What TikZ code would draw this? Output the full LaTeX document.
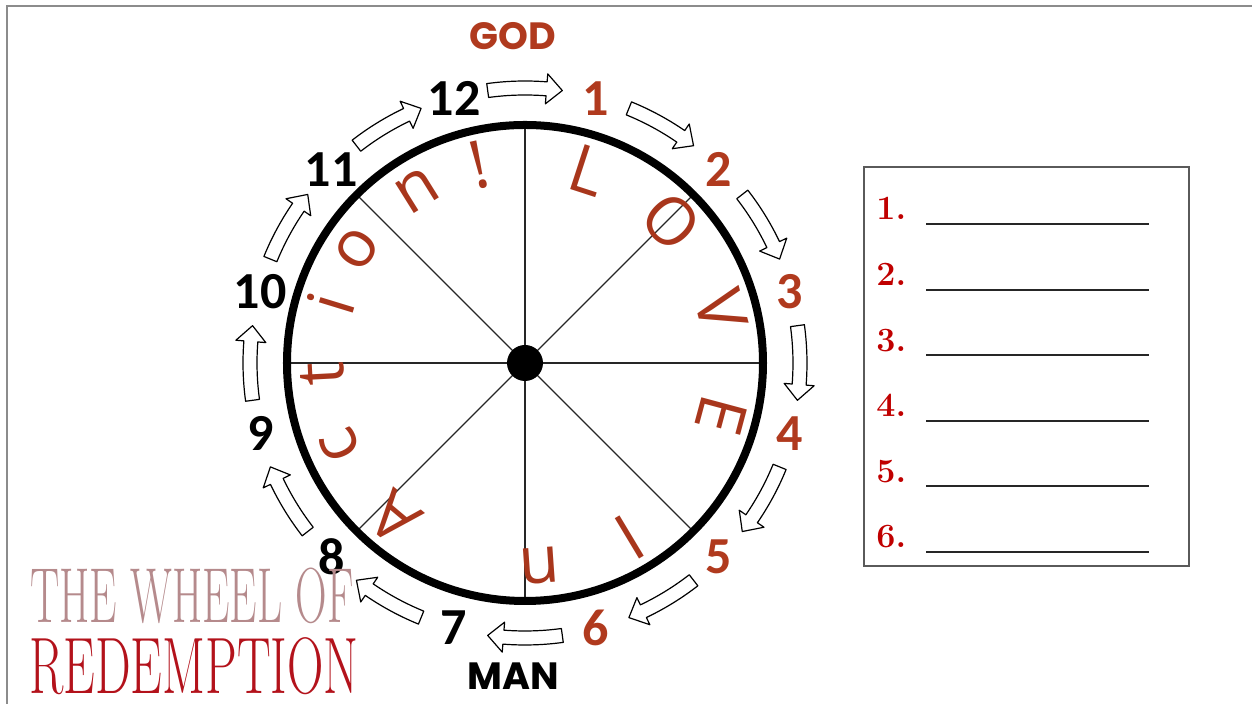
\documentclass[tikz,border=0pt]{standalone}
\usepackage{fontspec}
\usepackage{xcolor}
\usetikzlibrary{positioning, calc}
\newfontfamily\numfont{Carlito}
\newfontfamily\headfont{Poppins}
\newfontfamily\handfont{Open Sans}
\definecolor{rustTxt}{HTML}{B03A1E}
\definecolor{handTxt}{HTML}{A8361C}
\definecolor{listRed}{HTML}{C00000}
\definecolor{titlePink}{HTML}{B58A8C}
\definecolor{titleRed}{HTML}{B3121B}
\definecolor{frameGray}{HTML}{8C8C8C}
\definecolor{boxGray}{HTML}{5A5A5A}
\tikzset{
  hour/.style={font=\numfont\bfseries\fontsize{26}{26}\selectfont, inner sep=0pt},
  dark/.style={hour, text=black},
  rust/.style={hour, text=rustTxt},
  headword/.style={font=\headfont\bfseries\fontsize{19}{19}\selectfont, inner sep=0pt},
  letter/.style={font=\handfont\fontsize{33}{33}\selectfont, text=handTxt, inner sep=0pt},
  blockarrow/.style={draw=black, fill=white, line width=0.6pt, line join=round},
  spoke/.style={draw=black!85, line width=0.7pt},
  entry/.style={font=\bfseries\fontsize{17}{17}\selectfont, text=listRed, inner sep=0pt, anchor=base west},
  blank/.style={draw=black!85, line width=1pt},
}
\begin{document}
\begin{tikzpicture}[x=0.5pt, y=0.5pt]
  \useasboundingbox (-525,-341) rectangle (727,363);
  \draw[frameGray, line width=1pt] (-518,-341) -- (-518,357) -- (727,357);

  % the wheel
  \foreach \a in {0,45,...,315}
    \draw[spoke] (0,0) -- (\a:238);
  \draw[line width=4pt] (0,0) circle[radius=238];
  \fill (0,0) circle[radius=18];

  \foreach \k in {1,...,6}
    \node[rust] (h\k) at ({105-30*\k}:274) {\k};
  \foreach \k in {7,...,12}
    \node[dark] (h\k) at ({105-30*\k}:274) {\k};

  \foreach \a in {90,60,...,-240}
    \draw[blockarrow] ({\a+7.8}:268) arc[start angle=\a+7.8, end angle=\a-4.5, radius=268]
      -- ({\a-4.5}:260) -- ({\a-7.8}:275) -- ({\a-4.5}:290) -- ({\a-4.5}:282)
      arc[start angle=\a-4.5, end angle=\a+7.8, radius=282] -- cycle;

  \foreach \a/\c [count=\j] in {72/L, 44/O, 15/V, -15/E, -59/I, -86/n, -130/A,
      -156/c, -177/t, -197/i, -214/o, -238/n, -257/!}
    \node[letter, rotate=\a-90] (ltr\j) at (\a:203) {\c};

  \node[headword, text=rustTxt] (god) at (-12,327) {GOD};
  \node[headword] (man) at (-12,-313) {MAN};

  % title
  \node[font=\fontsize{39}{39}\selectfont, text=titlePink, xscale=0.56, inner sep=0pt]
    (title) at (-333,-233) {THE WHEEL OF};
  \node[font=\fontsize{40}{40}\selectfont, text=titleRed, xscale=0.63, inner sep=0pt]
    (subtitle) at (-331,-303) {REDEMPTION};

  % answer list
  \draw[boxGray, line width=1pt] (339,196) rectangle (664,-203);
  \foreach \i in {1,...,6} {
    \node[entry] (e\i) at (351,{143-65.6*(\i-1)}) {\i.};
    \draw[blank] (401,{139-65.6*(\i-1)}) -- (624,{139-65.6*(\i-1)});
  }
\end{tikzpicture}
\end{document}
